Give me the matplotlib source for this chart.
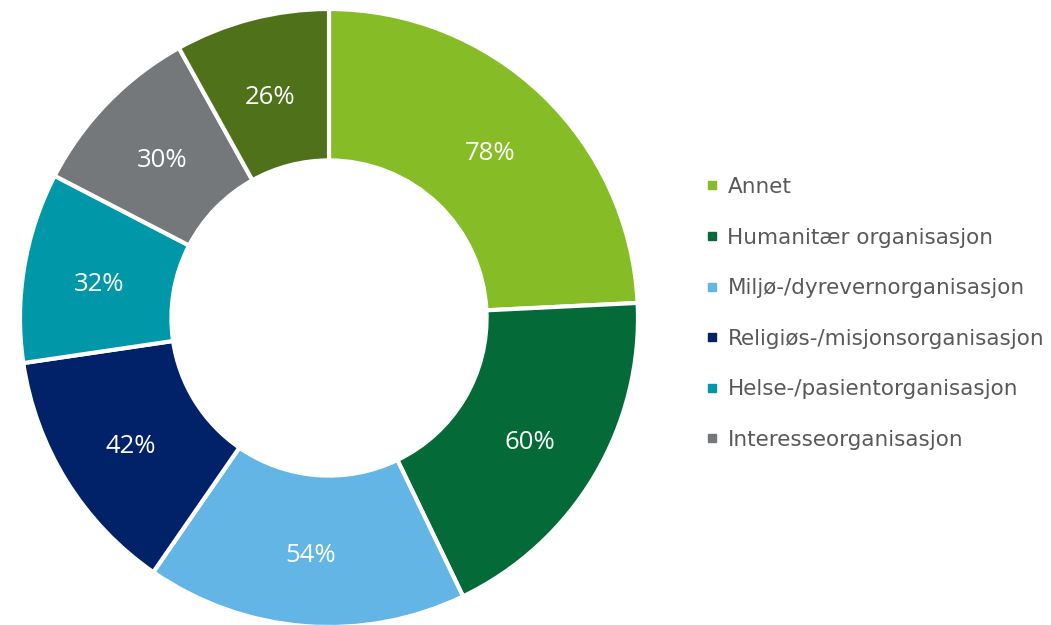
import numpy as np
import matplotlib.pyplot as plt
from matplotlib.lines import Line2D

# andel per organisasjonstype (prosent)
categories = ['Annet', 'Humanitær organisasjon', 'Miljø-/dyrevernorganisasjon',
              'Religiøs-/misjonsorganisasjon', 'Helse-/pasientorganisasjon',
              'Interesseorganisasjon', 'Idrett']
values = [78, 60, 54, 42, 32, 30, 26]
labels = ['78%', '60%', '54%', '42%', '32%', '30%', '26%']
colors = ['#86BC25', '#046A38', '#62B5E5', '#012169', '#0097A9', '#75787B', '#4E7119']

fig = plt.figure(figsize=(10.51, 6.25), dpi=100)
ax = fig.add_axes([20 / 1051, -2 / 625, 618 / 1051, 618 / 625])

wedges, texts = ax.pie(values, colors=colors, startangle=90, counterclock=False,
                       radius=1, wedgeprops=dict(width=0.49, edgecolor='white', linewidth=3))

# verdiene midt i ringen
total = sum(values)
start = 90
for v, lab in zip(values, labels):
    mid = np.deg2rad(start - v / total * 360 / 2)
    r = 0.755
    ax.text(r * np.cos(mid), r * np.sin(mid) - 0.006, lab, ha='center', va='center_baseline',
            color='white', fontsize=18.5, family='Open Sans')
    start -= v / total * 360

ax.set_xlim(-1, 1)
ax.set_ylim(-1, 1)
ax.set_aspect('equal')
ax.axis('off')

# legenden viser bare de seks første kategoriene
handles = [Line2D([], [], marker='s', linestyle='none', markersize=5.2,
                  markerfacecolor=c, markeredgecolor=c) for c in colors[:6]]
leg = fig.legend(handles, categories[:6], loc='center left',
                 bbox_to_anchor=(707 / 1051, 0.4985), frameon=False,
                 prop=dict(family='DejaVu Sans', size=15.5), labelcolor='#595959',
                 handlelength=0.5, handletextpad=0.45, labelspacing=1.42,
                 borderpad=0, borderaxespad=0)

fig.savefig('out.png', dpi=100)
